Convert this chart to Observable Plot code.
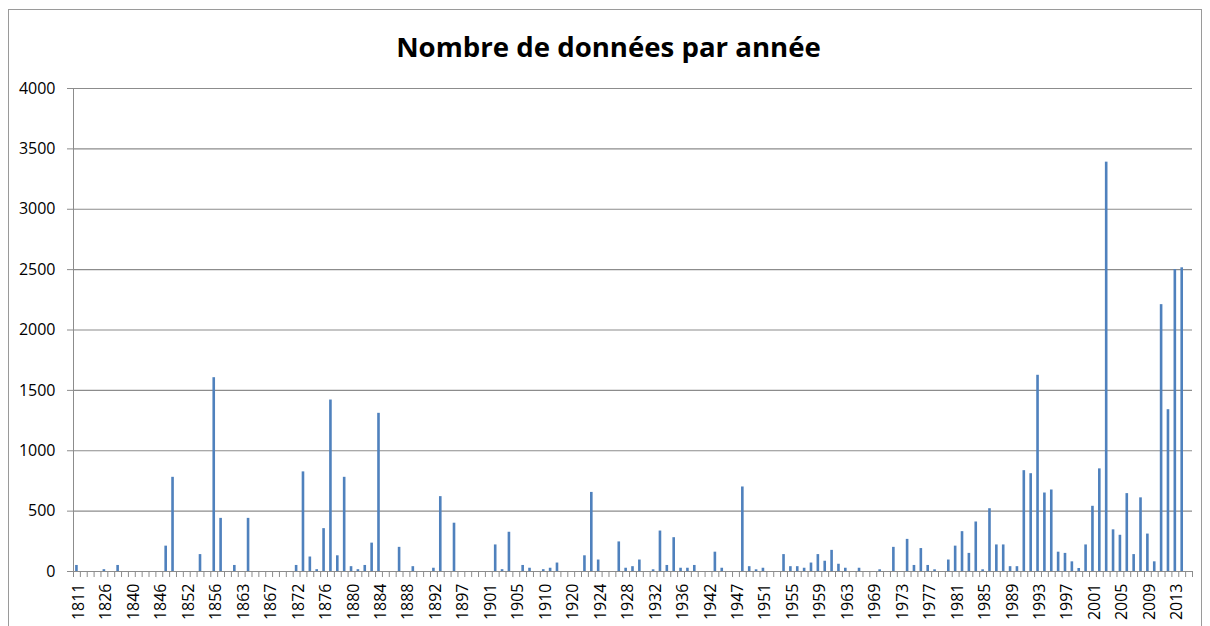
<!DOCTYPE html>
<html>
<head>
<meta charset="utf-8">
<script src="https://cdn.jsdelivr.net/npm/d3@7"></script>
<script src="https://cdn.jsdelivr.net/npm/@observablehq/plot@0.6"></script>
<style>
  html, body { margin: 0; padding: 0; background: #fff; }
  #wrap { position: relative; width: 1210px; height: 626px; overflow: hidden; font-family: "Open Sans", sans-serif; }
  #border { position: absolute; left: 8px; top: 9px; width: 1194px; height: 700px; border: 1px solid #9a9a9a; box-sizing: border-box; pointer-events: none; }
  #title { height: 70px; box-sizing: border-box; padding-top: 33px; padding-left: 7px; text-align: center; font-size: 27.6px; line-height: 27px; font-weight: 700; color: #000; }
  #chart svg { display: block; }
</style>
</head>
<body>
<div id="wrap">
  <div id="border"></div>
  <div id="title">Nombre de données par année</div>
  <div id="chart"></div>
</div>
<script>
// Categories (years that appear on the category axis)
const years = [
  "1811","1815","1819","1823","1826","1830","1833","1837","1840","1842",
  "1843","1845","1846","1848","1849","1850","1852","1853","1854","1855",
  "1856","1857","1859","1861","1863","1864","1865","1866","1867","1868",
  "1869","1871","1872","1873","1874","1875","1876","1877","1878","1879",
  "1880","1881","1882","1883","1884","1885","1886","1887","1888","1889",
  "1890","1891","1892","1893","1894","1896","1897","1898","1899","1900",
  "1901","1902","1903","1904","1905","1906","1908","1909","1910","1911",
  "1913","1919","1920","1921","1922","1923","1924","1925","1926","1927",
  "1928","1929","1930","1931","1932","1933","1934","1935","1936","1937",
  "1938","1940","1942","1943","1945","1946","1947","1948","1949","1950",
  "1951","1952","1953","1954","1955","1956","1957","1958","1959","1960",
  "1961","1962","1963","1964","1966","1968","1969","1970","1971","1972",
  "1973","1974","1975","1976","1977","1978","1979","1980","1981","1982",
  "1983","1984","1985","1986","1987","1988","1989","1990","1991","1992",
  "1993","1994","1995","1996","1997","1998","1999","2000","2001","2002",
  "2003","2004","2005","2006","2007","2008","2009","2010","2011","2012",
  "2013","2014","2015"
];

// Number of data per year
const counts = [
  50, 0, 0, 0, 15, 0, 50, 0, 0, 0,
  0, 0, 0, 210, 780, 0, 0, 0, 140, 0,
  1605, 440, 0, 50, 0, 440, 0, 0, 0, 0,
  0, 0, 50, 825, 120, 15, 355, 1420, 130, 780,
  40, 15, 50, 235, 1310, 0, 0, 200, 0, 40,
  0, 0, 27, 620, 0, 400, 0, 0, 0, 0,
  0, 220, 15, 325, 0, 50, 27, 0, 15, 27,
  70, 0, 0, 0, 130, 655, 95, 0, 0, 245,
  27, 40, 95, 0, 14, 335, 50, 280, 27, 27,
  50, 0, 0, 160, 27, 0, 0, 700, 40, 14,
  27, 0, 0, 140, 40, 40, 27, 70, 140, 85,
  175, 60, 27, 0, 27, 0, 0, 14, 0, 200,
  0, 266, 50, 190, 50, 14, 0, 95, 210, 330,
  150, 410, 14, 520, 220, 220, 40, 40, 835, 810,
  1625, 650, 675, 160, 150, 80, 25, 220, 540, 850,
  3390, 345, 300, 645, 140, 610, 310, 80, 2210, 1340,
  2500, 2515, 0
];

// Value-axis ticks and label interval on the category axis
const yTicks = [0, 500, 1000, 1500, 2000, 2500, 3000, 3500, 4000];
const labelInterval = 4;

const data = years.map((year, i) => ({year, count: counts[i]}));
const labelYears = years.filter((d, i) => i % labelInterval === 0 && counts.length - i > 2);

const W = 1210, H = 556;
const mL = 73, mR = 18, mT = 18, mB = 55;
const step = (W - mL - mR) / years.length;
const gray = "#8c8c8c";

const chart = Plot.plot({
  width: W,
  height: H,
  marginLeft: mL,
  marginRight: mR,
  marginTop: mT,
  marginBottom: mB,
  style: {fontFamily: "'Open Sans', sans-serif", fontSize: "16px", color: "#000", background: "transparent"},
  x: {type: "band", domain: years, paddingInner: 0.62, paddingOuter: 0.31, axis: null},
  y: {domain: [0, 4000], axis: null},
  marks: [
    Plot.gridY(yTicks, {stroke: gray, strokeOpacity: 1, strokeWidth: 1.2}),
    Plot.axisY(yTicks, {label: null, tickSize: 6, tickPadding: 12, stroke: gray, strokeOpacity: 1, fill: "#000", fontSize: 16, tickFormat: d => String(d)}),
    // category boundary tick marks below the axis
    Plot.ruleX(years, {x: d => d, dx: -step / 2, y1: 0, y2: 0, insetBottom: -6, stroke: gray}),
    Plot.ruleX(years.slice(-1), {x: d => d, dx: step / 2, y1: 0, y2: 0, insetBottom: -6, stroke: gray}),
    // vertical value axis line
    Plot.ruleX(years.slice(0, 1), {x: d => d, dx: -step / 2, stroke: gray}),
    Plot.barY(data, {x: "year", y: "count", fill: "#4F81BD"}),
    Plot.text(labelYears, {x: d => d, frameAnchor: "bottom", rotate: -90, textAnchor: "end", dx: 7, dy: 12, fontSize: 16, fill: "#000"})
  ]
});
document.getElementById("chart").appendChild(chart);
</script>
</body>
</html>
